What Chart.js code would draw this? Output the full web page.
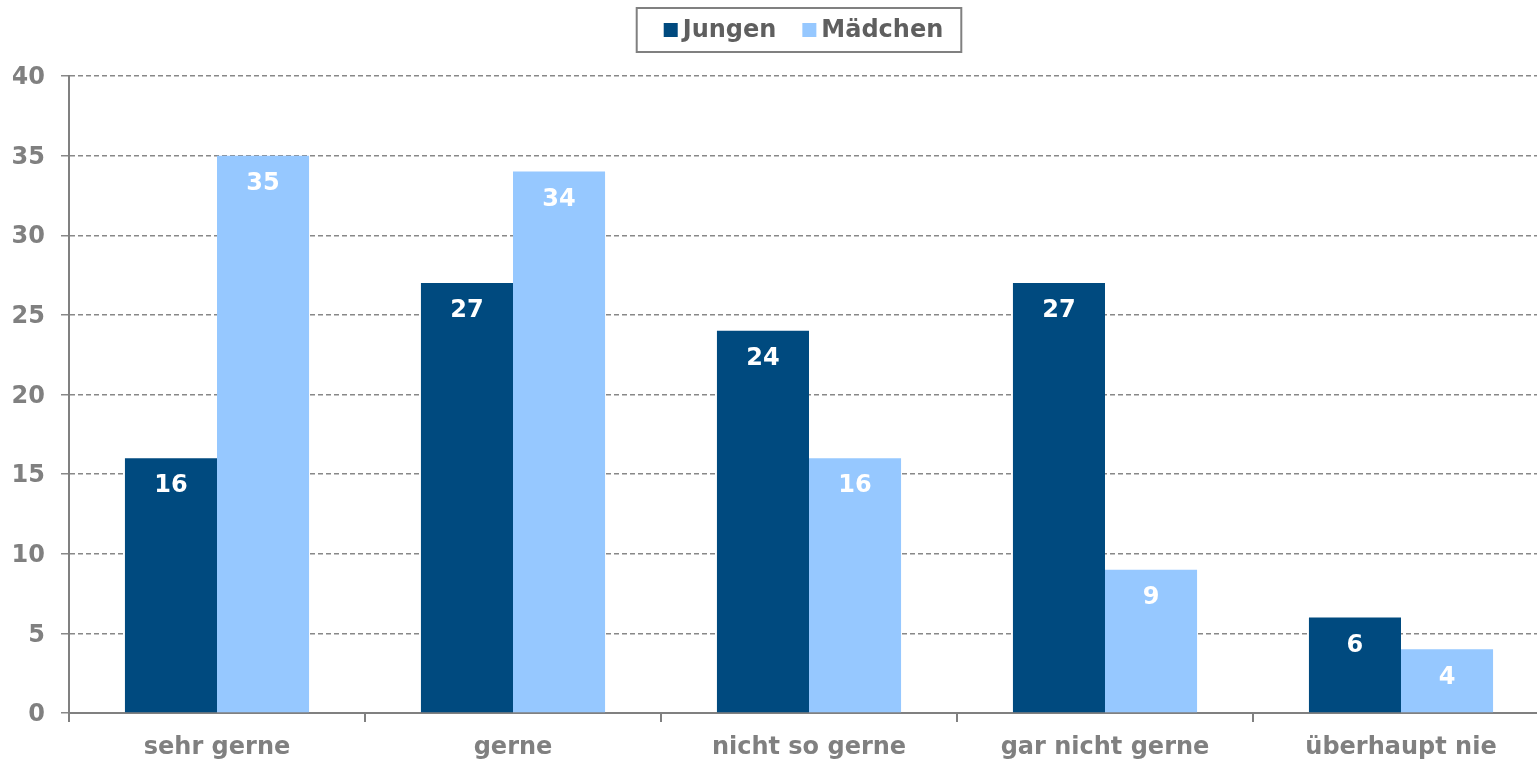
<!DOCTYPE html>
<html>
<head>
<meta charset="utf-8">
<script src="https://cdn.jsdelivr.net/npm/chart.js@4.4.0/dist/chart.umd.min.js"></script>
<style>
  html, body { margin: 0; padding: 0; background: #fff; overflow: hidden; }
  #wrap { width: 1598px; height: 760px; }
</style>
</head>
<body>
<div id="wrap"><canvas id="c" width="1598" height="760"></canvas></div>
<script>
const categories = ['sehr gerne', 'gerne', 'nicht so gerne', 'gar nicht gerne', 'überhaupt nie'];
const jungen = [16, 27, 24, 27, 6];
const maedchen = [35, 34, 16, 9, 4];
const yTicks = [0, 5, 10, 15, 20, 25, 30, 35, 40];

const FONT = '"DejaVu Sans", Verdana, sans-serif';
const GRAY = '#808080';

// White value labels just inside the top of each bar
const valueLabels = {
  id: 'valueLabels',
  afterDatasetsDraw(chart) {
    const ctx = chart.ctx;
    ctx.save();
    ctx.fillStyle = '#ffffff';
    ctx.font = 'bold 24px ' + FONT;
    ctx.textAlign = 'center';
    ctx.textBaseline = 'middle';
    chart.data.datasets.forEach((ds, i) => {
      chart.getDatasetMeta(i).data.forEach((bar, j) => {
        ctx.fillText(String(ds.data[j]), bar.x, bar.y + 28);
      });
    });
    ctx.restore();
  }
};

// Framed legend centred above the plot
const framedLegend = {
  id: 'framedLegend',
  afterDraw(chart) {
    const ctx = chart.ctx;
    const ds = chart.data.datasets;
    const box = 14, gap = 5, itemGap = 26, padL = 27, padR = 18;
    const cx = 799, cy = 30, top = 8, bottom = 52;
    ctx.save();
    ctx.font = 'bold 24px ' + FONT;
    const widths = ds.map(d => ctx.measureText(d.label).width);
    const inner = widths.reduce((s, w) => s + box + gap + w, 0) + itemGap * (ds.length - 1);
    const left = cx - (padL + inner + padR) / 2;
    ctx.strokeStyle = GRAY;
    ctx.lineWidth = 2;
    ctx.strokeRect(left, top, padL + inner + padR, bottom - top);
    let x = left + padL;
    ctx.textBaseline = 'middle';
    ctx.textAlign = 'left';
    ds.forEach((d, i) => {
      ctx.fillStyle = d.backgroundColor;
      ctx.fillRect(x, cy - box / 2, box, box);
      ctx.fillStyle = '#5f5f5f';
      ctx.fillText(d.label, x + box + gap, cy + 1);
      x += box + gap + widths[i] + itemGap;
    });
    ctx.restore();
  }
};

new Chart(document.getElementById('c'), {
  type: 'bar',
  data: {
    labels: categories,
    datasets: [
      { label: 'Jungen', data: jungen, backgroundColor: '#004A7F', borderWidth: 0 },
      { label: 'Mädchen', data: maedchen, backgroundColor: '#96C8FF', borderWidth: 0 }
    ]
  },
  options: {
    responsive: false,
    animation: false,
    devicePixelRatio: 1,
    layout: { padding: { top: 76, right: 49, left: 13, bottom: 1 } },
    datasets: { bar: { categoryPercentage: 0.622, barPercentage: 1 } },
    plugins: {
      tooltip: { enabled: false },
      legend: { display: false }
    },
    scales: {
      x: {
        afterFit(scale) { scale.height = 46; },
        grid: { offset: true, drawOnChartArea: false, drawTicks: true, tickLength: 9, color: GRAY, lineWidth: 2 },
        border: { color: GRAY, width: 2 },
        ticks: { color: GRAY, padding: 11, font: { family: FONT, size: 24, weight: 'bold' } }
      },
      y: {
        min: 0, max: 40,
        afterBuildTicks(scale) { scale.ticks = yTicks.map(v => ({ value: v })); },
        afterFit(scale) { scale.width = 56; },
        grid: { color: '#888888', lineWidth: 1.5, tickLength: 8 },
        border: { color: GRAY, width: 2, dash: [5, 3] },
        ticks: { color: GRAY, padding: 16, labelOffset: 2, font: { family: FONT, size: 24, weight: 'bold' } }
      }
    }
  },
  plugins: [valueLabels, framedLegend]
});
</script>
</body>
</html>
